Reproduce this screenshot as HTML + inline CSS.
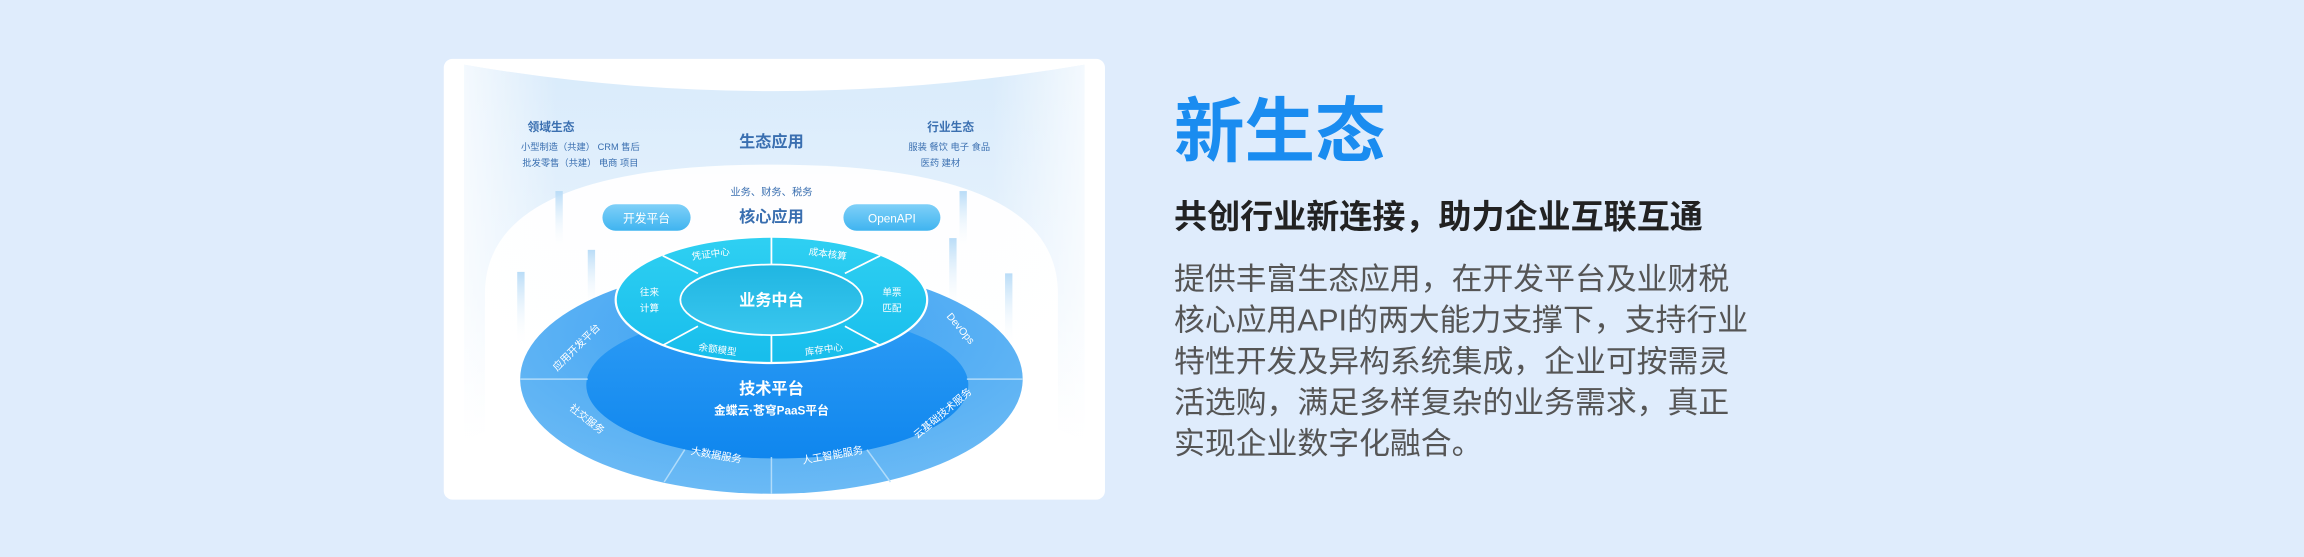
<!DOCTYPE html>
<html><head><meta charset="utf-8"><style>
html,body{margin:0;padding:0;width:2304px;height:557px;overflow:hidden;background:#dfecfc;}
svg{display:block}
text{font-family:"Liberation Sans","Noto Sans CJK SC",sans-serif;}
</style></head><body>
<svg width="2304" height="557" viewBox="0 0 1568 379" xmlns="http://www.w3.org/2000/svg">
<defs>
<linearGradient id="fan" x1="0" y1="0" x2="0" y2="1">
<stop offset="0" stop-color="#d9ebfb"/><stop offset="0.6" stop-color="#e8f3fd"/><stop offset="1" stop-color="#ffffff"/></linearGradient>
<linearGradient id="fanx" x1="0" y1="0" x2="1" y2="0">
<stop offset="0" stop-color="#ffffff" stop-opacity="0.7"/><stop offset="0.15" stop-color="#ffffff" stop-opacity="0"/>
<stop offset="0.85" stop-color="#ffffff" stop-opacity="0"/><stop offset="1" stop-color="#ffffff" stop-opacity="0.7"/></linearGradient>
<linearGradient id="dome" x1="0" y1="0" x2="0" y2="1">
<stop offset="0" stop-color="#ffffff" stop-opacity="0.95"/><stop offset="1" stop-color="#ffffff"/></linearGradient>
<radialGradient id="outer" cx="0.5" cy="0.3" r="0.7">
<stop offset="0" stop-color="#3aa0f2"/><stop offset="1" stop-color="#6bbaf5"/></radialGradient>
<linearGradient id="tech" x1="0" y1="0" x2="0" y2="1">
<stop offset="0" stop-color="#2d9cf5"/><stop offset="1" stop-color="#0f86ee"/></linearGradient>
<linearGradient id="mid" x1="0" y1="0" x2="0" y2="1">
<stop offset="0" stop-color="#2fd0f2"/><stop offset="1" stop-color="#17bdec"/></linearGradient>
<linearGradient id="core" x1="0" y1="0" x2="0" y2="1">
<stop offset="0" stop-color="#20b6e2"/><stop offset="1" stop-color="#39c6ee"/></linearGradient>
<linearGradient id="pill" x1="0" y1="0" x2="0" y2="1">
<stop offset="0" stop-color="#7fd0f8"/><stop offset="1" stop-color="#3fb4f0"/></linearGradient>
<linearGradient id="bar" x1="0" y1="0" x2="0" y2="1">
<stop offset="0" stop-color="#b9dcf7"/><stop offset="1" stop-color="#ffffff" stop-opacity="0"/></linearGradient>
</defs>
<rect x="302" y="40" width="450" height="300" rx="6" fill="#ffffff"/>
<!-- fan background -->
<path d="M316 44 Q525 80 738 44 L738 300 Q525 200 316 300 Z" fill="url(#fan)"/>
<path d="M316 44 Q525 80 738 44 L738 300 Q525 200 316 300 Z" fill="url(#fanx)"/>
<path d="M330 200 Q330 112 525 112 Q720 112 720 200 L720 320 L330 320 Z" fill="url(#dome)"/>
<!-- pillars -->
<rect x="378" y="130" width="5" height="40" fill="url(#bar)"/>
<rect x="400" y="170" width="5" height="40" fill="url(#bar)"/>
<rect x="352" y="185" width="5" height="50" fill="url(#bar)"/>
<rect x="653" y="130" width="5" height="40" fill="url(#bar)"/>
<rect x="646" y="162" width="5" height="50" fill="url(#bar)"/>
<rect x="684" y="186" width="5" height="50" fill="url(#bar)"/>
<!-- top labels -->
<g fill="#3a6fb0" text-anchor="middle">
<text x="375" y="89" font-size="8" font-weight="bold">领域生态</text>
<text x="395" y="102" font-size="6.3">小型制造（共建） CRM 售后</text>
<text x="395" y="113" font-size="6.3">批发零售（共建） 电商 项目</text>
<text x="525" y="100" font-size="11" font-weight="bold">生态应用</text>
<text x="647" y="89" font-size="8" font-weight="bold">行业生态</text>
<text x="646" y="102" font-size="6.3">服装  餐饮  电子  食品</text>
<text x="640" y="113" font-size="6.3">医药  建材</text>
<text x="525" y="133" font-size="7">业务、财务、税务</text>
<text x="525" y="151" font-size="11" font-weight="bold">核心应用</text>
</g>
<rect x="410" y="139" width="60" height="18" rx="9" fill="url(#pill)"/>
<text x="440" y="151.5" font-size="8" fill="#fff" text-anchor="middle">开发平台</text>
<rect x="574" y="139" width="66" height="18" rx="9" fill="url(#pill)"/>
<text x="607" y="151.5" font-size="8" fill="#fff" text-anchor="middle">OpenAPI</text>
<!-- outer ring -->
<ellipse cx="525" cy="258" rx="171" ry="78" fill="url(#outer)"/>
<ellipse cx="529" cy="262" rx="130" ry="50" fill="url(#tech)"/>
<g stroke="#b9e0fb" stroke-width="1" fill="none" opacity="0.9">
<line x1="354" y1="258" x2="400" y2="258"/>
<line x1="658" y1="258" x2="696" y2="258"/>
<line x1="525" y1="311" x2="525" y2="336"/>
<line x1="466" y1="306" x2="452" y2="328"/>
<line x1="590" y1="306" x2="606" y2="328"/>
</g>
<g fill="#ffffff" font-size="7" text-anchor="middle">
<text transform="translate(394,238) rotate(-45)">应用开发平台</text>
<text transform="translate(398,287) rotate(38)">社交服务</text>
<text transform="translate(487,312) rotate(10)">大数据服务</text>
<text transform="translate(567,312) rotate(-10)">人工智能服务</text>
<text transform="translate(643,283) rotate(-40)">云基础技术服务</text>
<text transform="translate(652,225) rotate(50)">DevOps</text>
</g>
<text x="525" y="268" font-size="11" font-weight="bold" fill="#fff" text-anchor="middle">技术平台</text>
<text x="525" y="282" font-size="8" font-weight="bold" fill="#fff" text-anchor="middle">金蝶云·苍穹PaaS平台</text>
<!-- middle ring -->
<ellipse cx="525" cy="204" rx="106" ry="43" fill="url(#mid)" stroke="#ffffff" stroke-width="1.5"/>
<ellipse cx="525" cy="204" rx="62" ry="24" fill="url(#core)" stroke="#ffffff" stroke-width="1.2"/>
<g stroke="#ffffff" stroke-width="1.2">
<line x1="525" y1="161" x2="525" y2="180"/>
<line x1="525" y1="228" x2="525" y2="247"/>
<line x1="475" y1="186" x2="451" y2="174"/>
<line x1="575" y1="186" x2="599" y2="174"/>
<line x1="475" y1="222" x2="451" y2="235"/>
<line x1="575" y1="222" x2="599" y2="235"/>
</g>
<g fill="#ffffff" font-size="6.5" text-anchor="middle">
<text transform="translate(484,175) rotate(-8)">凭证中心</text>
<text transform="translate(563,175) rotate(8)">成本核算</text>
<text x="442" y="201">往来</text><text x="442" y="212">计算</text>
<text x="607" y="201">单票</text><text x="607" y="212">匹配</text>
<text transform="translate(488,240) rotate(8)">余额模型</text>
<text transform="translate(561,240) rotate(-8)">库存中心</text>
</g>
<text x="525" y="208" font-size="11" font-weight="bold" fill="#fff" text-anchor="middle">业务中台</text>
<!-- right text -->
<text x="799" y="106" font-size="48" font-weight="bold" fill="#1a8cf0">新生态</text>
<text x="799" y="155" font-size="22.5" font-weight="bold" fill="#222">共创行业新连接，助力企业互联互通</text>
<g font-size="21" fill="#555">
<text x="799" y="197">提供丰富生态应用，在开发平台及业财税</text>
<text x="799" y="225">核心应用API的两大能力支撑下，支持行业</text>
<text x="799" y="253">特性开发及异构系统集成，企业可按需灵</text>
<text x="799" y="281">活选购，满足多样复杂的业务需求，真正</text>
<text x="799" y="309">实现企业数字化融合。</text>
</g>
</svg>
</body></html>
